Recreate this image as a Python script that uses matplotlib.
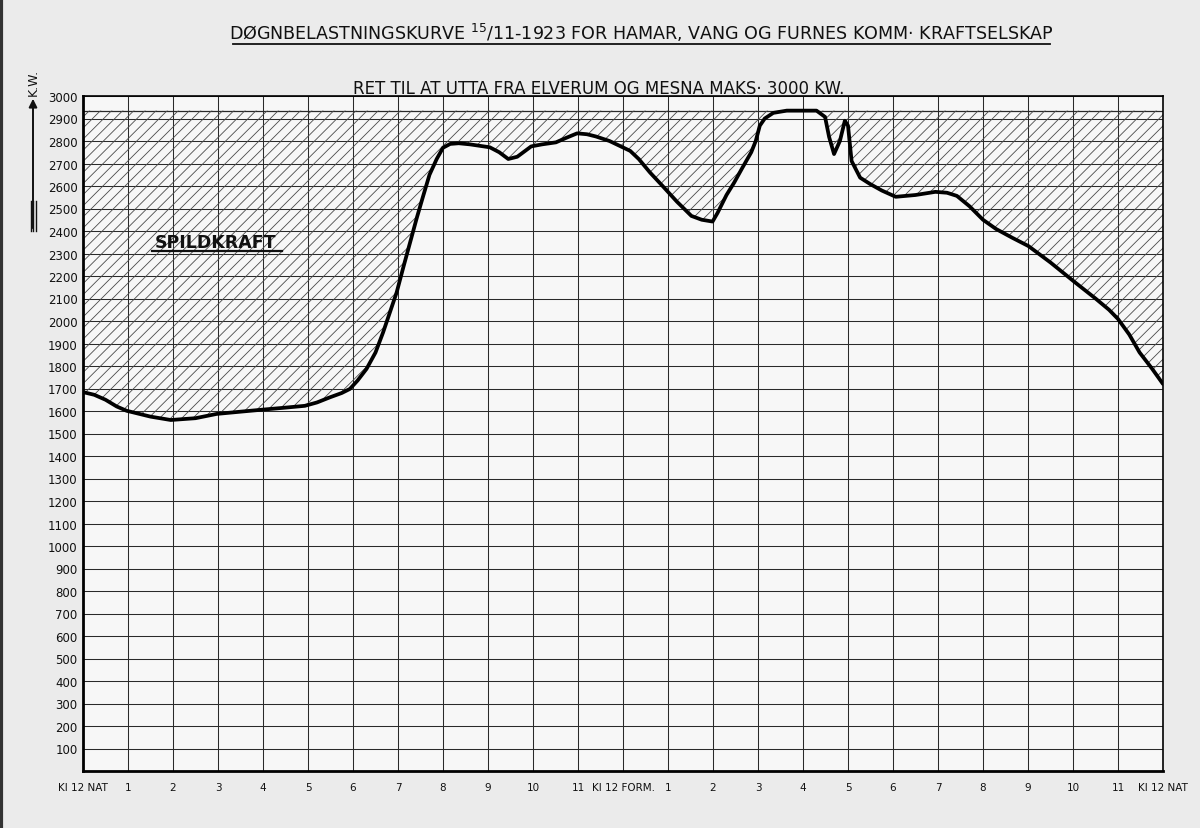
import matplotlib
matplotlib.use("Agg")
import matplotlib.pyplot as plt
from matplotlib.lines import Line2D

plt.rcParams['font.family'] = ['DejaVu Sans']
plt.rcParams['hatch.linewidth'] = 0.6

# ---- data (hours after midnight, load in kW) ----
hours = [0.0, 0.25, 0.5, 0.75, 0.97, 1.5, 1.95, 2.5, 2.97, 3.5, 3.99, 4.5, 4.93, 5.2,
         5.49, 5.75, 5.93, 6.1, 6.3, 6.5, 6.67, 6.97, 7.12, 7.27, 7.42, 7.56, 7.7,
         7.86, 8.0, 8.16, 8.35, 8.6, 9.04, 9.25, 9.45, 9.65, 9.96, 10.2, 10.51,
         10.75, 10.98, 11.2, 11.4, 11.7, 11.92, 12.16, 12.35, 12.6, 12.88, 13.2,
         13.52, 13.75, 13.99, 14.1, 14.3, 14.47, 14.65, 14.85, 14.95, 15.04, 15.15,
         15.34, 15.64, 16.0, 16.3, 16.49, 16.58, 16.69, 16.82, 16.93, 17.0, 17.08,
         17.27, 17.49, 17.75, 18.06, 18.5, 18.94, 19.2, 19.42, 19.7, 20.0, 20.29,
         20.65, 21.01, 21.5, 22.05, 22.5, 22.8, 23.0, 23.25, 23.48, 23.75, 24.0]
load_kw = [1684, 1672, 1650, 1620, 1601, 1575, 1560, 1568, 1587, 1597, 1606, 1615, 1623, 1638,
           1661, 1680, 1698, 1735, 1787, 1860, 1950, 2127, 2240, 2350, 2460, 2556, 2650,
           2720, 2770, 2787, 2790, 2785, 2772, 2750, 2720, 2730, 2776, 2785, 2794,
           2815, 2834, 2830, 2820, 2800, 2779, 2756, 2720, 2660, 2600, 2530,
           2467, 2450, 2442, 2480, 2560, 2615, 2680, 2750, 2800, 2868, 2900,
           2925, 2935, 2935, 2935, 2907, 2818, 2742, 2800, 2890, 2868, 2711,
           2637, 2609, 2580, 2552, 2560, 2574, 2570, 2556, 2510, 2450, 2409,
           2370, 2333, 2260, 2171, 2100, 2050, 2009, 1940, 1860, 1790, 1720]
max_kw = 2935

y_ticks = list(range(100, 3001, 100))
x_ticks = list(range(0, 25))
x_labels = ["Kl 12 NAT", "1", "2", "3", "4", "5", "6", "7", "8", "9", "10", "11",
            "Kl 12 FORM.", "1", "2", "3", "4", "5", "6", "7", "8", "9", "10", "11",
            "Kl 12 NAT"]

title = "DØGNBELASTNINGSKURVE $^{15}$/11-1923 FOR HAMAR, VANG OG FURNES KOMM· KRAFTSELSKAP"
subtitle = "RET TIL AT UTTA FRA ELVERUM OG MESNA MAKS· 3000 KW."
area_label = "SPILDKRAFT"

W, H = 1200, 829
fig = plt.figure(figsize=(12, 8.29), dpi=100)
fig.patch.set_facecolor('#ebebeb')

def fx(x):
    return x / W
def fy(y):
    return 1 - y / H

ax = fig.add_axes([fx(83), fy(772), (1163 - 83) / W, (772 - 97) / H])
ax.set_facecolor('#f7f7f7')
ax.set_xlim(0, 24)
ax.set_ylim(0, 3000)

# grid
for h in x_ticks[1:-1]:
    ax.axvline(h, color='#2a2a2a', lw=0.75, zorder=1)
for v in y_ticks:
    ax.axhline(v, color='#2a2a2a', lw=0.75, zorder=1)
ax.axhline(max_kw, color='#2a2a2a', lw=0.9, zorder=1)

# hatched surplus area
ax.fill_between(hours, load_kw, max_kw, facecolor='none', edgecolor='#4a4a4a',
                hatch='///', linewidth=0, zorder=2)

# load curve
ax.plot(hours, load_kw, color='black', lw=2.7, solid_joinstyle='round',
        solid_capstyle='round', zorder=4)

for side in ['left', 'bottom']:
    ax.spines[side].set_linewidth(2.0)
for side in ['right', 'top']:
    ax.spines[side].set_linewidth(1.2)

ax.set_yticks(y_ticks)
ax.set_yticklabels([str(v) for v in y_ticks], fontsize=8.5)
ax.set_xticks(x_ticks)
ax.set_xticklabels(x_labels, fontsize=7.5)
ax.tick_params(axis='both', length=0, pad=4, colors='#111111')
ax.tick_params(axis='x', pad=8)

# title with underline
fig.text(fx(641), fy(33), title, ha='center', va='center', fontsize=12.6, color='#111111')
fig.add_artist(Line2D([fx(233), fx(1050)], [fy(45), fy(45)], color='#111111', lw=1.3))

# subtitle
fig.text(fx(599), fy(89), subtitle, ha='center', va='center', fontsize=12, color='#111111')

# SPILDKRAFT label, underlined
ax.text(1.6, 2351, area_label, fontsize=12.5, fontweight='bold', ha='left', va='center',
        color='#111111', zorder=5)
ax.plot([1.53, 4.42], [2311, 2311], color='#111111', lw=1.6, zorder=5)

# KW axis marker with arrow
fig.text(fx(33), fy(82), "K.W.", rotation=90, ha='center', va='center', fontsize=9,
         color='#111111')
ax.annotate("", xy=(fx(33), fy(97)), xytext=(fx(33), fy(232)),
            xycoords='figure fraction', textcoords='figure fraction',
            arrowprops=dict(arrowstyle='-|>', color='#111111', lw=1.4,
                            mutation_scale=12))
for dx in (-2.5, 0, 2.5):
    fig.add_artist(Line2D([fx(33 + dx), fx(33 + dx)], [fy(202), fy(232)],
                          color='#111111', lw=1.0))

# dark scan edge at left
fig.add_artist(Line2D([0.001, 0.001], [0, 1], color='#333333', lw=3))

fig.savefig("out.png", dpi=100, facecolor=fig.get_facecolor())
